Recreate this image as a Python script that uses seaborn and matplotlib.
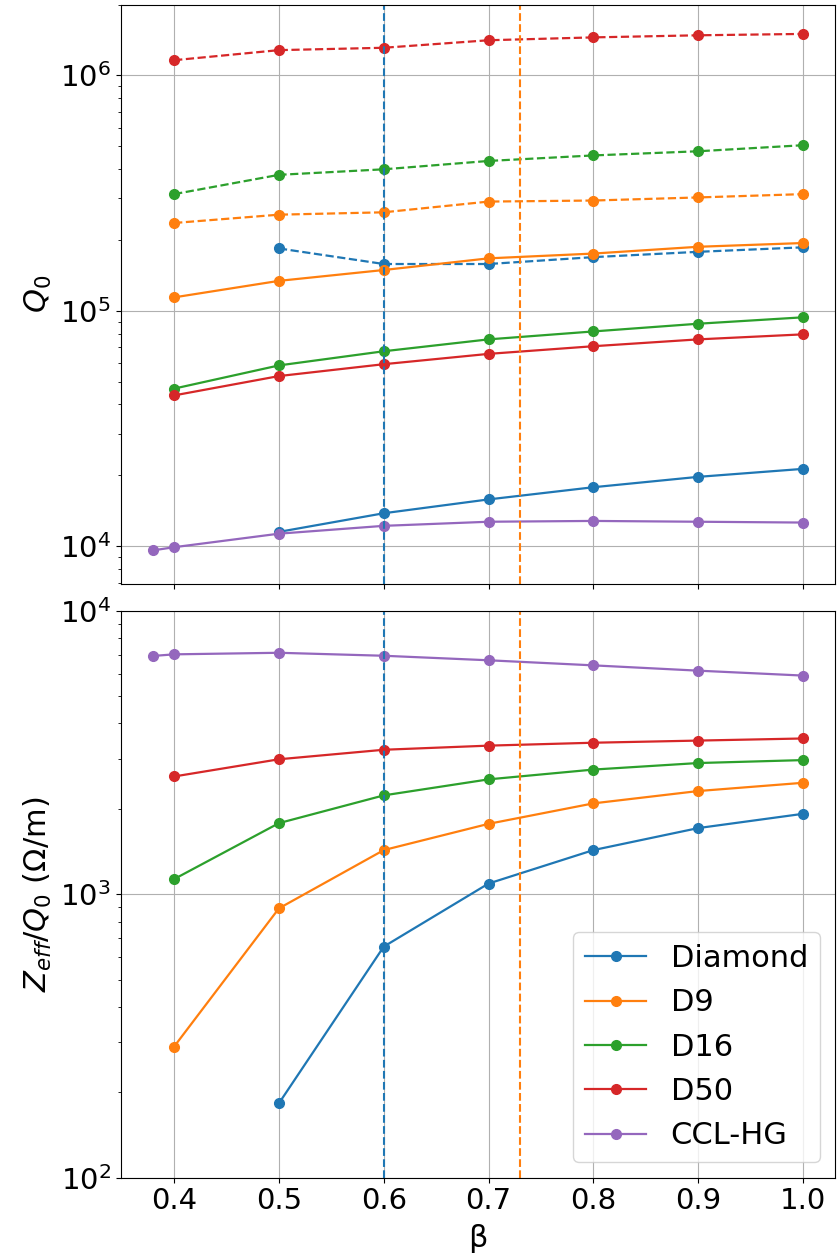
import numpy as np
import pandas as pd
import matplotlib
matplotlib.use("Agg")
import matplotlib.pyplot as plt
import seaborn as sns

# beta values
beta = [0.4, 0.5, 0.6, 0.7, 0.8, 0.9, 1.0]
beta_ccl = [0.38, 0.4, 0.5, 0.6, 0.7, 0.8, 0.9, 1.0]

# Q0 (solid) and Q0 (dashed) per design
q0_diamond = [np.nan, 1.15e4, 1.38e4, 1.58e4, 1.78e4, 1.97e4, 2.13e4]
q0_d9 = [1.14e5, 1.34e5, 1.49e5, 1.67e5, 1.75e5, 1.87e5, 1.94e5]
q0_d16 = [4.67e4, 5.86e4, 6.73e4, 7.56e4, 8.17e4, 8.81e4, 9.38e4]
q0_d50 = [4.37e4, 5.28e4, 5.93e4, 6.56e4, 7.07e4, 7.56e4, 7.94e4]
q0_ccl = [9.6e3, 9.9e3, 1.13e4, 1.22e4, 1.27e4, 1.28e4, 1.27e4, 1.26e4]

q0d_diamond = [np.nan, 1.84e5, 1.58e5, 1.58e5, 1.69e5, 1.78e5, 1.86e5]
q0d_d9 = [2.36e5, 2.56e5, 2.62e5, 2.91e5, 2.94e5, 3.03e5, 3.13e5]
q0d_d16 = [3.13e5, 3.78e5, 3.99e5, 4.33e5, 4.57e5, 4.76e5, 5.05e5]
q0d_d50 = [1.16e6, 1.28e6, 1.31e6, 1.41e6, 1.45e6, 1.48e6, 1.50e6]

# Zeff/Q0 (Ohm/m)
z_diamond = [np.nan, 183, 653, 1090, 1430, 1710, 1920]
z_d9 = [290, 891, 1430, 1770, 2090, 2310, 2470]
z_d16 = [1130, 1780, 2230, 2540, 2750, 2900, 2970]
z_d50 = [2600, 2990, 3230, 3340, 3420, 3480, 3540]
z_ccl = [6920, 7010, 7100, 6930, 6680, 6410, 6140, 5900]

beta_lines = [0.6, 0.73]

names = ["Diamond", "D9", "D16", "D50"]
colors = ["#1f77b4", "#ff7f0e", "#2ca02c", "#d62728"]
ccl_color = "#9467bd"

solid_q0 = [q0_diamond, q0_d9, q0_d16, q0_d50]
dashed_q0 = [q0d_diamond, q0d_d9, q0d_d16, q0d_d50]
zq = [z_diamond, z_d9, z_d16, z_d50]

plt.rcParams["font.size"] = 21

fig, (ax1, ax2) = plt.subplots(2, 1, figsize=(8.38, 12.53), dpi=100, sharex=True,
                               gridspec_kw={"height_ratios": [579.5, 567]})
fig.subplots_adjust(left=0.144, right=0.997, top=0.9964, bottom=0.0601, hspace=0.0462)

def draw(ax, x, y, color, ls="-", label=None):
    df = pd.DataFrame({"x": x, "y": y}).dropna()
    sns.lineplot(data=df, x="x", y="y", ax=ax, color=color, linestyle=ls,
                 marker="o", markersize=7, markeredgecolor=color,
                 markeredgewidth=1, linewidth=1.6, label=label, legend=False)

for name, c, s, d in zip(names, colors, solid_q0, dashed_q0):
    draw(ax1, beta, s, c)
    draw(ax1, beta, d, c, ls="--")
draw(ax1, beta_ccl, q0_ccl, ccl_color)

for name, c, z in zip(names, colors, zq):
    draw(ax2, beta, z, c, label=name)
draw(ax2, beta_ccl, z_ccl, ccl_color, label="CCL-HG")

for ax in (ax1, ax2):
    ax.set_yscale("log")
    ax.axvline(beta_lines[0], color=colors[0], linestyle="--", linewidth=1.5)
    ax.axvline(beta_lines[1], color=colors[1], linestyle="--", linewidth=1.5)
    ax.grid(True, which="major", color="#b0b0b0", linewidth=0.8)
    ax.tick_params(labelsize=21)

ax1.set_ylim(6.9e3, 2.0e6)
ax2.set_ylim(1e2, 1e4)
ax2.set_xlim(0.349, 1.031)
ax2.set_xticks([0.4, 0.5, 0.6, 0.7, 0.8, 0.9, 1.0])

ax1.set_ylabel("$Q_0$", fontsize=22)
ax1.set_xlabel("")
ax2.set_ylabel("$Z_{eff}/Q_0$ (Ω/m)", fontsize=22)
ax2.set_xlabel("β", fontsize=22, labelpad=6)

ax2.legend(loc="lower right", fontsize=22)

fig.savefig("out.png", dpi=100)
